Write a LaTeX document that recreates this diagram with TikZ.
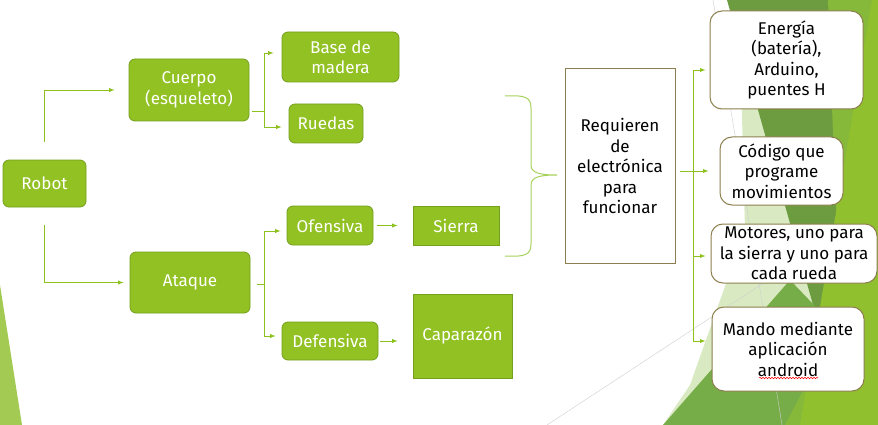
\documentclass[tikz,border=0pt]{standalone}
\usepackage{fontspec}
\setmainfont{Fira Sans}
\usetikzlibrary{calc,decorations.pathmorphing}
\definecolor{verde}{HTML}{92C123}
\definecolor{verdeborde}{HTML}{74A01D}
\definecolor{linea}{HTML}{8CC11E}
\definecolor{llaveverde}{HTML}{A6D15A}
\definecolor{oliva}{HTML}{8C7E4E}
\definecolor{palido}{HTML}{D9EAC2}
\definecolor{oscuro}{HTML}{6C9B40}
\definecolor{medio}{HTML}{76AD48}
\definecolor{vivo}{HTML}{90C02E}
\definecolor{mate}{HTML}{86B83A}
\definecolor{claro}{HTML}{A3CA52}
\definecolor{gris}{HTML}{CFCFCF}
\tikzset{
  caja/.style      = {shape=rectangle, draw=verdeborde, line width=0.8pt,
                      fill=verde, text=white, rounded corners=6pt,
                      align=center, inner sep=2pt,
                      font=\fontsize{17}{20.5}\selectfont},
  cajarecta/.style = {caja, rounded corners=0pt},
  hoja/.style      = {caja, fill=white, draw=oliva, line width=1pt,
                      text=black, rounded corners=12pt},
  bloque/.style    = {hoja, rounded corners=0pt},
  rama/.style      = {draw=linea, line width=0.9pt, -latex}
}

\begin{document}
\begin{tikzpicture}[x=1pt,y=-1pt]
  \useasboundingbox (0,0) rectangle (878,425);
  % fondo
  \fill[white] (0,0) rectangle (878,425);
  \fill[claro] (0,285) -- (22,425) -- (0,425) -- cycle;
  \fill[palido] (740,40) -- (878,40) -- (878,425) -- (663,425) -- (690,385) -- (745,230) -- cycle;
  \fill[oscuro] (727,0) -- (830,0) -- (852,345) -- (830,365) -- cycle;
  \fill[medio] (663,425) -- (790,280) -- (838,330) -- (792,425) -- cycle;
  \fill[mate] (828,0) -- (878,0) -- (878,425) -- (785,425) -- (840,320) -- cycle;
  \fill[vivo] (872,0) -- (878,0) -- (878,425) -- (800,425) -- cycle;
  \draw[gris] (713,0) -- (782,425);
  \draw[gris] (547,425) -- (765,282);

  % cajas verdes
  \node[caja, minimum width=83pt, minimum height=47pt] (robot) at (44.5,183.5) {Robot};
  \node[caja, minimum width=120pt, minimum height=62pt] (cuerpo) at (189,90) {Cuerpo\\(esqueleto)};
  \node[caja, minimum width=117pt, minimum height=50pt] (base) at (340.5,57) {Base de\\madera};
  \node[caja, minimum width=74pt, minimum height=39pt] (ruedas) at (326,123.5) {Ruedas};
  \node[caja, minimum width=120pt, minimum height=61pt] (ataque) at (190,282.5) {Ataque};
  \node[caja, minimum width=86pt, minimum height=39pt] (ofensiva) at (330,225.5) {Ofensiva};
  \node[caja, minimum width=96pt, minimum height=38pt] (defensiva) at (330,341) {Defensiva};
  \node[cajarecta, minimum width=86pt, minimum height=39pt] (sierra) at (456,225.5) {Sierra};
  \node[cajarecta, minimum width=99pt, minimum height=84pt] (caparazon) at (462.5,336) {Caparazón};

  % cajas blancas
  \node[bloque, minimum width=110pt, minimum height=194pt] (requieren) at (620,166)
    {Requieren\\de\\electrónica\\para\\funcionar};
  \node[hoja, minimum width=153pt, minimum height=98pt] (energia) at (786.5,60)
    {Energía\\(batería),\\Arduino,\\puentes H};
  \node[hoja, minimum width=123pt, minimum height=68pt] (codigo) at (781.5,171)
    {Código que\\programe\\movimientos};
  \node[hoja, minimum width=166pt, minimum height=59pt] (motores) at (794,253.5)
    {Motores, uno para\\la sierra y uno para\\cada rueda};
  \node[hoja, minimum width=152pt, minimum height=84pt] (mando) at (788,349)
    {Mando mediante\\aplicación\\android};
  \draw[red, line width=0.5pt, decorate, decoration={snake, amplitude=0.8pt, segment length=3pt}]
    (759,378) -- (818,378);

  % conectores
  \draw[rama, shorten <=18pt, shorten >=14pt] (robot.north) |- (cuerpo.west);
  \draw[rama, shorten <=18pt, shorten >=6pt] (robot.south) |- (ataque.west);

  \coordinate (jc) at (264,111);
  \draw[linea, line width=0.9pt] ($(cuerpo.east |- jc)+(3,0)$) -- (jc);
  \draw[rama, shorten >=8pt] (jc) |- ([yshift=4pt]base.west);
  \draw[rama, shorten >=7pt] (jc) |- ([yshift=-3.5pt]ruedas.west);

  \coordinate (ja) at (264,284);
  \draw[linea, line width=0.9pt] ($(ataque.east |- ja)+(7,0)$) -- (ja);
  \draw[rama, shorten >=6pt] (ja) |- ([yshift=-5.5pt]ofensiva.west);
  \draw[rama, shorten >=6pt] (ja) |- ([yshift=5pt]defensiva.west);
  \draw[rama, shorten <=4pt, shorten >=15pt] (ofensiva.east) -- (sierra.west);
  \draw[rama, shorten <=2pt, shorten >=15pt] (defensiva.east) -- (defensiva.east -| caparazon.west);

  % llave
  \draw[llaveverde, line width=1pt]
    (505,96) .. controls (525,95) and (531,97) .. (531,108) -- (531,165)
    .. controls (531,173) and (540,175) .. (557,175)
    .. controls (540,175) and (531,177) .. (531,185) -- (531,244)
    .. controls (531,255) and (525,257) .. (505,256);

  \coordinate (jr) at (693,171);
  \draw[rama, shorten <=4pt, shorten >=11pt] (requieren.east |- codigo.west) -- (codigo.west);
  \draw[rama, shorten >=4pt] (jr) |- ([yshift=-10pt]energia.west);
  \draw[rama, shorten >=5pt] (jr) |- ([yshift=-2.5pt]motores.west);
  \draw[rama, shorten >=6pt] (jr) |- ([yshift=8pt]mando.west);
\end{tikzpicture}
\end{document}
